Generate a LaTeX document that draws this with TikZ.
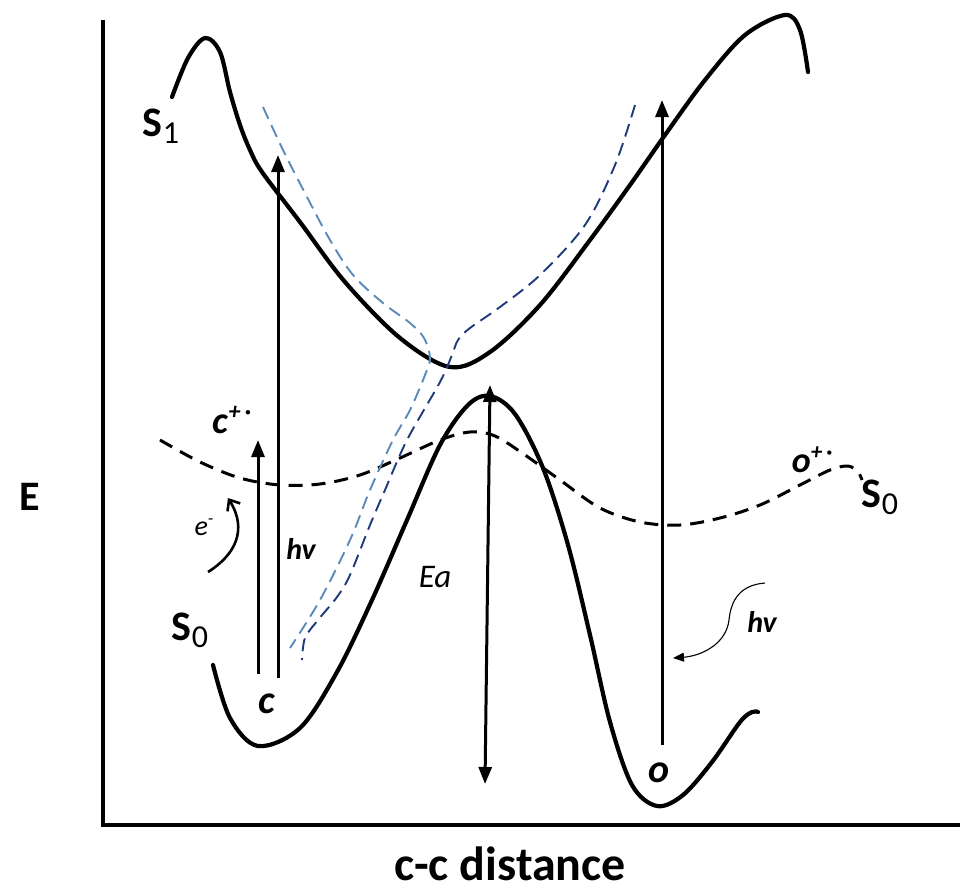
\documentclass[tikz,border=0pt]{standalone}
\usepackage{fontspec}
\setmainfont{Carlito}
\usetikzlibrary{arrows.meta}
\definecolor{lblue}{HTML}{5A8AB8}
\definecolor{dblue}{HTML}{1F3A7A}
\tikzset{
  curve/.style={line width=4.2pt, line cap=round, line join=round},
  dcurve/.style={line width=3pt, dash pattern=on 14pt off 9pt},
  bcurve/.style={line width=1.9pt, dash pattern=on 13pt off 7pt},
  vtrans/.style={line width=3pt, -{Triangle[length=17pt,width=13pt]}},
  lbl/.style={font=\bfseries\fontsize{42}{46}\selectfont, inner sep=0pt},
  ilbl/.style={font=\bfseries\itshape\fontsize{40}{44}\selectfont, inner sep=0pt},
  slbl/.style={font=\itshape\fontsize{30}{34}\selectfont, inner sep=0pt},
}
\begin{document}
\begin{tikzpicture}[x=1pt,y=-1pt]
\useasboundingbox (0,0) rectangle (960,895);
% axes
\coordinate (ytop) at (103,20);
\coordinate (orig) at (103,825);
\coordinate (xend) at (960,825);
\draw[line width=4.5pt] (ytop) -- (orig) -- (xend);
% axis labels
\node[lbl] (E) at (30,497) {E};
\node[lbl, font=\bfseries\fontsize{48}{52}\selectfont] (xlab) at (510,864) {c-c distance};
% S1 curve
\draw[curve] plot[smooth, tension=0.55] coordinates {(172,97) (188,58) (205,38) (220,52) (230,92) (240,125) (250,150) (262,172) (300,222) (345,282) (400,338) (450,367) (490,352) (540,305) (590,240) (630,185) (665,135) (705,80) (745,35) (785,15) (800,30) (808,72)};
% S0 curve
\draw[curve] plot[smooth, tension=0.55] coordinates {(213,665) (230,718) (258,746) (300,728) (337,672) (372,600) (407,520) (440,445) (468,405) (490,396) (515,414) (543,468) (568,545) (590,635) (610,722) (632,785) (657,806) (683,795) (712,762) (740,722) (752,712) (758,712)};
% dashed S0 (ion) curve
\draw[dcurve] plot[smooth, tension=0.55] coordinates {(160,440) (200,462) (240,478) (280,485) (320,484) (360,475) (400,458) (440,440) (470,432) (495,436) (525,455) (560,480) (600,508) (640,522) (680,525) (720,518) (760,505) (800,485) (830,470) (848,466) (858,472) (862,480)};
% blue dashed curves
\draw[bcurve, color=lblue] plot[smooth, tension=0.55] coordinates {(263,107) (283,150) (307,197) (330,240) (353,275) (383,303) (410,323) (424,338) (430,358) (425,375) (410,410) (393,440) (370,490) (350,540) (320,600) (290,648)};
\draw[bcurve, color=dblue] plot[smooth, tension=0.55] coordinates {(635,105) (615,165) (585,225) (540,275) (500,307) (470,328) (458,340) (452,355) (440,382) (407,440) (385,490) (370,525) (350,575) (337,597) (318,620) (305,638) (302,660)};
% vertical transitions
\coordinate (a1b) at (258,674);
\coordinate (a1t) at (258,440);
\coordinate (a2b) at (278,678);
\coordinate (a2t) at (278,155);
\coordinate (a3b) at (662,745);
\coordinate (a3t) at (662,100);
\coordinate (eat) at (490,385);
\coordinate (eab) at (485,784);
\draw[vtrans] (a1b) -- (a1t);
\draw[vtrans] (a2b) -- (a2t);
\draw[vtrans] (a3b) -- (a3t);
\draw[line width=3pt, {Triangle[length=17pt,width=13pt]}-{Triangle[length=17pt,width=13pt]}] (eat) -- (eab);
% e- curved arrow
\coordinate (es) at (208,572);
\coordinate (ee) at (228,498);
\draw[line width=2.6pt, -{Straight Barb[length=9pt,width=15pt]}] (es) .. controls (235,555) and (248,530) .. (ee);
% hv right curved arrow
\coordinate (hs) at (765,583);
\coordinate (he) at (673,658);
\draw[line width=1.1pt, -{Triangle[length=11pt,width=9pt]}] (hs) .. controls (740,585) and (731,600) .. (729,620) .. controls (726,645) and (700,656) .. (he);
% labels
\node[lbl] (S1) at (161,126) {S\raisebox{-0.35ex}{\fontsize{32}{36}\selectfont\mdseries 1}};
\node[lbl] (S0l) at (190,630) {S\raisebox{-0.35ex}{\fontsize{32}{36}\selectfont\mdseries 0}};
\node[lbl] (S0r) at (880,497) {S\raisebox{-0.35ex}{\fontsize{32}{36}\selectfont\mdseries 0}};
\node[ilbl, font=\bfseries\itshape\fontsize{38}{42}\selectfont] (cp) at (232,420) {c\raisebox{0.75ex}{\fontsize{24}{26}\selectfont+\,·}};
\node[ilbl, font=\bfseries\itshape\fontsize{36}{40}\selectfont] (op) at (812,460) {o\raisebox{0.75ex}{\fontsize{23}{25}\selectfont+\,·}};
\node[ilbl] (c) at (267,704) {c};
\node[ilbl] (o) at (659,773) {o};
\node[slbl, font=\itshape\fontsize{28}{32}\selectfont] (em) at (204,527) {e\raisebox{0.8ex}{\fontsize{18}{20}\selectfont -}};
\node[slbl, font=\bfseries\itshape\fontsize{30}{34}\selectfont] (hv1) at (301,549) {hv};
\node[slbl, font=\bfseries\itshape\fontsize{30}{34}\selectfont] (hv2) at (762,622) {hv};
\node[slbl, font=\itshape\fontsize{33}{36}\selectfont] (Ea) at (435,577) {Ea};
\end{tikzpicture}
\end{document}
